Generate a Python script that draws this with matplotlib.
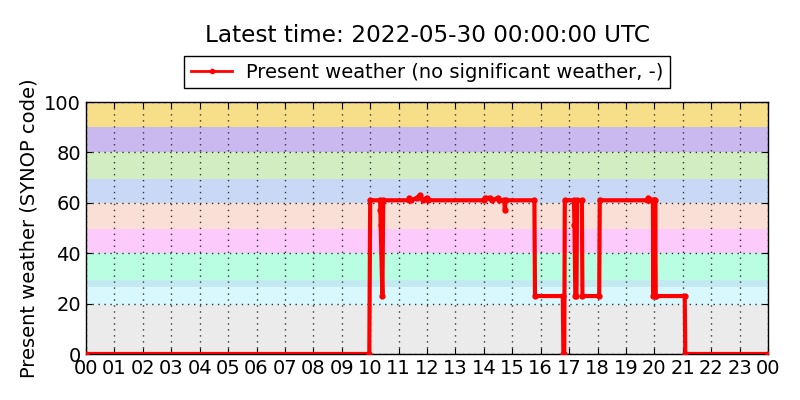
import matplotlib
matplotlib.use("Agg")
import matplotlib.pyplot as plt

# Data: time of day (hours) and present weather SYNOP code
hours = [0.0, 9.97, 10.0, 10.35, 10.36, 10.37, 10.43, 10.46, 11.35, 11.38, 11.45,
         11.65, 11.75, 11.85, 11.99, 12.05, 14.0, 14.05, 14.2, 14.3, 14.5, 14.55,
         14.72, 14.74, 14.77, 15.78, 15.80, 16.78, 16.80, 16.83, 16.85, 17.17,
         17.19, 17.22, 17.26, 17.28, 17.45, 17.47, 18.06, 18.08, 19.75, 19.78,
         19.85, 19.95, 19.97, 19.99, 20.01, 20.03, 20.05, 21.07, 21.09, 24.0]
weather = [0, 0, 61, 61, 57, 51, 23, 61, 61, 62, 61,
           62, 63, 61, 62, 61, 61, 62, 62, 61, 62, 61,
           61, 57, 61, 61, 23, 23, 0, 0, 61, 61,
           51, 23, 23, 61, 61, 23, 23, 61, 61, 62,
           61, 61, 23, 61, 23, 61, 23, 23, 0, 0]

tick_labels = ["%02d" % h for h in range(24)] + ["00"]

# Background bands (lower, upper, colour)
band_low = [0, 19.5, 26.5, 29.4, 40, 49.5, 60, 69.5, 80, 90]
band_high = [19.5, 26.5, 29.4, 40, 49.5, 60, 69.5, 80, 90, 100]
band_colors = ["#ebebeb", "#d8f8fe", "#c3e9f1", "#b9fee3", "#fccbfb",
               "#f9dfd5", "#c9d8f5", "#d3edc3", "#c9b9ee", "#f7df8a"]

title = "Latest time: 2022-05-30 00:00:00 UTC"
legend_label = "Present weather (no significant weather, -)"

fig = plt.figure(figsize=(8, 4), dpi=100)
ax = fig.add_axes([0.1075, 0.115, 0.8525, 0.63])

for lo, hi, c in zip(band_low, band_high, band_colors):
    ax.axhspan(lo, hi, color=c, lw=0, zorder=0)

ax.plot(hours, weather, color="red", lw=3, marker="o", markersize=3.5,
        markeredgecolor="red", label=legend_label, zorder=3)

ax.set_xlim(0, 24)
ax.set_ylim(0, 100)
ax.set_xticks(range(25))
ax.set_xticklabels(tick_labels)
ax.set_yticks(range(0, 101, 20))
ax.tick_params(direction="in", labelsize=14, top=True, right=True, length=4)
ax.grid(True, color="#333333", linestyle=(0, (1.0, 3.3)), lw=1.0, zorder=1)
ax.set_axisbelow(True)
ax.set_ylabel("Present weather (SYNOP code)", fontsize=14)
for s in ax.spines.values():
    s.set_linewidth(1.0)

leg = ax.legend(loc="lower center", bbox_to_anchor=(0.5, 1.015), fontsize=14,
                fancybox=False, edgecolor="black", framealpha=1,
                handlelength=2.1, handletextpad=0.7, borderpad=0.35)
for h in leg.legend_handles:
    h.set_linewidth(2)
    h.set_markersize(3)

fig.text(0.534, 0.912, title, ha="center", va="center", fontsize=16.7)

fig.savefig("out.png", dpi=100, facecolor="white")
